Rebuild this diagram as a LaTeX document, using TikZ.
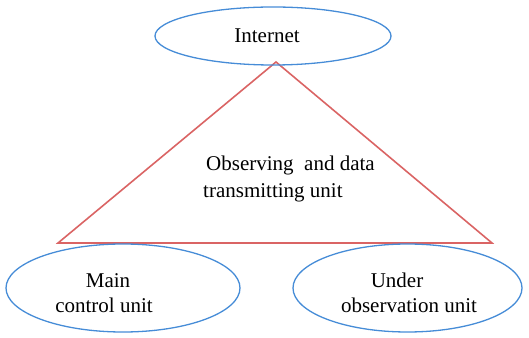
\documentclass[tikz,border=0pt]{standalone}
\usepackage{fontspec}
\setmainfont{Liberation Serif}
\usetikzlibrary{shapes.geometric}
\definecolor{eblue}{RGB}{70,140,215}
\definecolor{tred}{RGB}{218,100,100}
\begin{document}
\begin{tikzpicture}[x=1pt,y=1pt,
  unitshape/.style={draw=eblue,line width=1.3pt,ellipse,inner sep=0pt},
  lbl/.style={font=\fontsize{21}{26}\selectfont,inner sep=0pt,anchor=base},
  lbll/.style={lbl,anchor=base west}]
\useasboundingbox (0,0) rectangle (529,337);
% triangle
\coordinate (apex) at (276,275);
\coordinate (bl) at (58,94);
\coordinate (br) at (492,94);
\draw[tred,line width=1.6pt,line join=miter] (apex) -- (br) -- (bl) -- cycle;
% ellipses
\node[unitshape,minimum width=236,minimum height=58] (inet) at (273,301) {};
\node[unitshape,minimum width=234,minimum height=88] (main) at (123,49) {};
\node[unitshape,minimum width=229,minimum height=88] (obs) at (407.5,49) {};
% labels
\node[lbl] (tinet) at (267,294) {Internet};
\node[lbll] (t1) at (206,166) {Observing\ \ and data};
\node[lbll] (t2) at (203,139) {transmitting unit};
\node[lbl] (m1) at (108,50) {Main};
\node[lbl] (m2) at (104,25) {control unit};
\node[lbl] (u1) at (397,50) {Under};
\node[lbl] (u2) at (409,25) {observation unit};
\end{tikzpicture}
\end{document}
